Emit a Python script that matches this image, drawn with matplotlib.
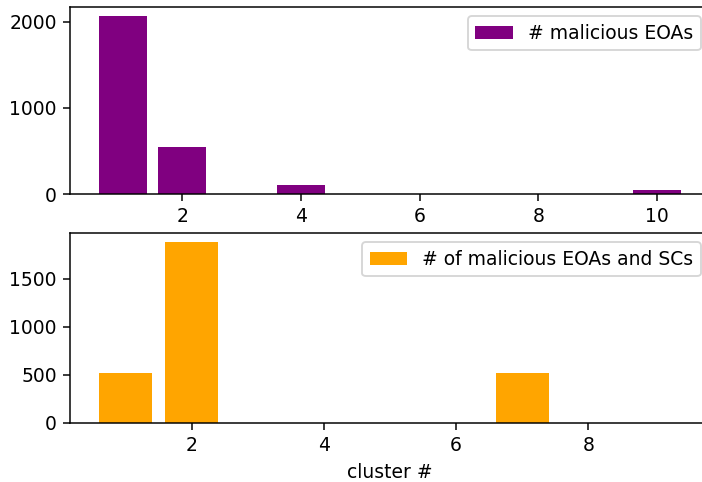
import matplotlib
matplotlib.use("Agg")
import matplotlib.pyplot as plt

plt.rcParams['font.family'] = ['DejaVu Sans']
plt.rcParams['font.size'] = 10

clusters_top = [1, 2, 3, 4, 5, 6, 7, 8, 9, 10]
eoa_counts = [2065, 543, 0, 105, 0, 0, 0, 0, 0, 45]

clusters_bottom = [1, 2, 3, 4, 5, 6, 7, 8, 9]
eoa_sc_counts = [525, 1882, 0, 0, 0, 0, 520, 0, 0]

W, H = 702, 482
DPI = 135
fig = plt.figure(figsize=(W / DPI, H / DPI), dpi=DPI)

def box(l, t, r, b):
    return [l / W, 1 - b / H, (r - l) / W, (b - t) / H]

ax1 = fig.add_axes(box(70, 7, 710, 194))
ax2 = fig.add_axes(box(70, 233, 710, 423))

ax1.bar(clusters_top, eoa_counts, color='purple', label='# malicious EOAs')
ax1.legend(loc='upper right')

ax2.bar(clusters_bottom, eoa_sc_counts, color='orange', label='# of malicious EOAs and SCs')
ax2.legend(loc='upper right')
ax2.set_xlabel('cluster #')

fig.savefig('out.png', dpi=DPI)
